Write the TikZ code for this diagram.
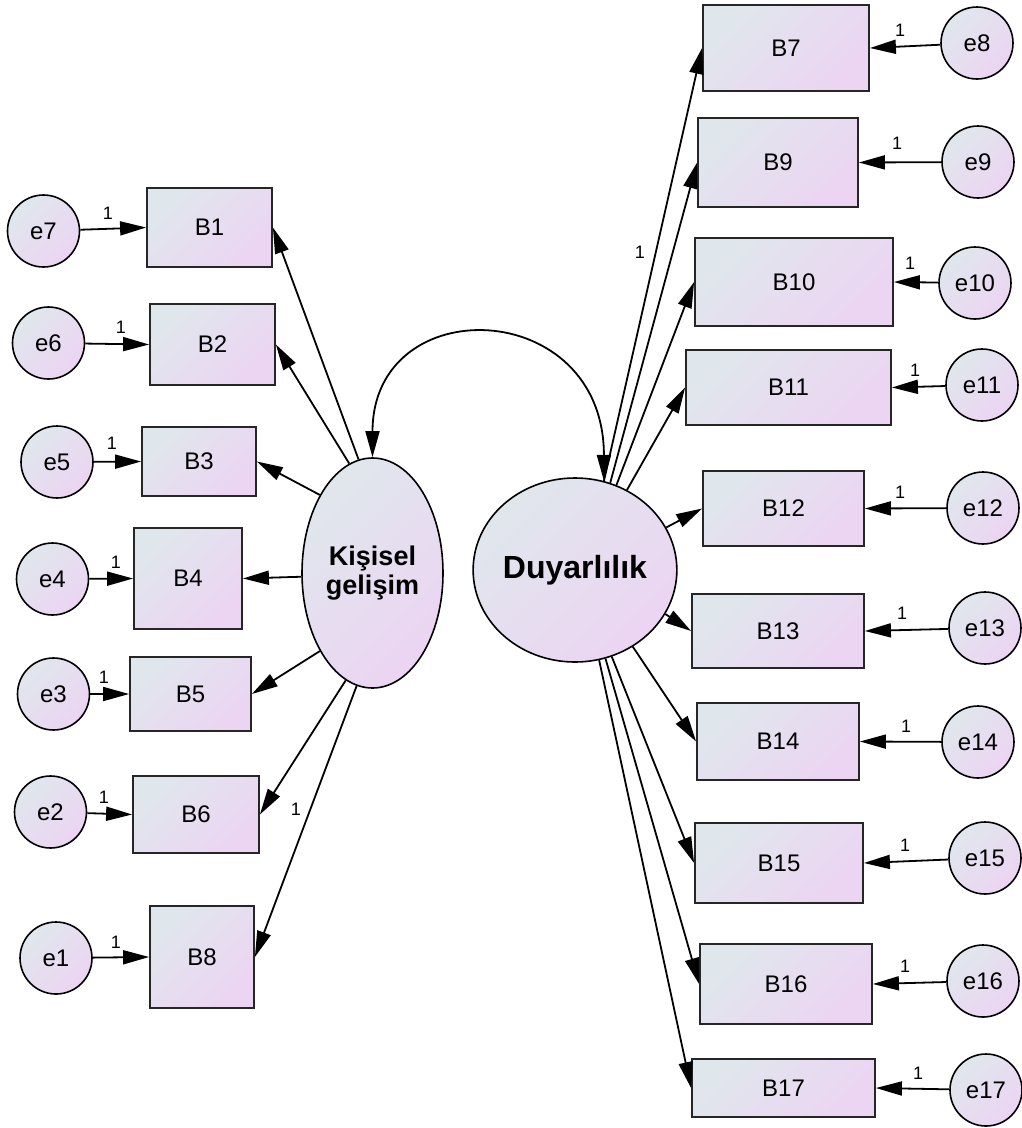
\documentclass[tikz,border=0pt]{standalone}
\usepackage{fontspec}
\setmainfont{Liberation Sans}
\usetikzlibrary{arrows.meta,shapes.geometric}
\definecolor{ca}{RGB}{224,231,236}
\definecolor{cb}{RGB}{236,212,243}
\begin{document}
\begin{tikzpicture}[x=1pt,y=-1pt,
 fillg/.style={top color=ca,bottom color=cb,shading angle=45},
 obs/.style={rectangle,draw=black!85,line width=1.8pt,fillg,inner sep=0pt,font=\fontsize{24}{26}\selectfont},
 err/.style={circle,draw=black,line width=1.6pt,fillg,minimum size=72pt,inner sep=0pt,font=\fontsize{24}{26}\selectfont},
 lat/.style={ellipse,draw=black,line width=1.6pt,fillg,inner sep=0pt,align=center},
 arr/.style={line width=1.8pt,-{Triangle[length=26pt,width=14pt]}},
 cov/.style={line width=1.8pt,{Triangle[length=26pt,width=14pt]}-{Triangle[length=26pt,width=14pt]}},
 one/.style={font=\fontsize{18}{18}\selectfont,inner sep=0pt}
]
\useasboundingbox (0,0) rectangle (1022,1128);

% latent variables
\node[lat,minimum width=141pt,minimum height=230pt,font=\bfseries\fontsize{27}{29}\selectfont] (K) at (372.5,573) {Kişisel\\gelişim};
\node[lat,minimum width=194pt,minimum height=184pt,font=\bfseries\fontsize{32}{34}\selectfont] (D) at (575,570) {Duyarlılık};

% left observed
\node[obs,minimum width=125pt,minimum height=79pt] (B1) at (209.5,227.5) {B1};
\node[obs,minimum width=125pt,minimum height=81pt] (B2) at (212.5,344.5) {B2};
\node[obs,minimum width=114pt,minimum height=69pt] (B3) at (199,461.5) {B3};
\node[obs,minimum width=108pt,minimum height=101pt] (B4) at (188,578.5) {B4};
\node[obs,minimum width=121pt,minimum height=74pt] (B5) at (190.5,694) {B5};
\node[obs,minimum width=126pt,minimum height=77pt] (B6) at (196,814.5) {B6};
\node[obs,minimum width=104pt,minimum height=102pt] (B8) at (202,957) {B8};

% right observed
\node[obs,minimum width=166pt,minimum height=86pt] (B7) at (786,48) {B7};
\node[obs,minimum width=160pt,minimum height=89pt] (B9) at (778,162.5) {B9};
\node[obs,minimum width=198pt,minimum height=88pt] (B10) at (794,282) {B10};
\node[obs,minimum width=205pt,minimum height=75pt] (B11) at (788.5,387.5) {B11};
\node[obs,minimum width=161pt,minimum height=75pt] (B12) at (783.5,508.5) {B12};
\node[obs,minimum width=172pt,minimum height=74pt] (B13) at (778,631) {B13};
\node[obs,minimum width=162pt,minimum height=77pt] (B14) at (778,741.5) {B14};
\node[obs,minimum width=168pt,minimum height=80pt] (B15) at (779,863) {B15};
\node[obs,minimum width=172pt,minimum height=80pt] (B16) at (786,984) {B16};
\node[obs,minimum width=183pt,minimum height=58pt] (B17) at (783.5,1088) {B17};

% errors left
\node[err] (e7) at (43.5,231) {e7};
\node[err] (e6) at (48.5,343) {e6};
\node[err] (e5) at (57,462) {e5};
\node[err] (e4) at (52.5,579) {e4};
\node[err] (e3) at (53.5,694) {e3};
\node[err] (e2) at (50.5,812) {e2};
\node[err] (e1) at (56,958) {e1};
% errors right
\node[err] (e8) at (977,43) {e8};
\node[err] (e9) at (978,162) {e9};
\node[err] (e10) at (975,283) {e10};
\node[err] (e11) at (982,385) {e11};
\node[err] (e12) at (983,508) {e12};
\node[err] (e13) at (985,628) {e13};
\node[err] (e14) at (978,742) {e14};
\node[err] (e15) at (985,858) {e15};
\node[err] (e16) at (983,981) {e16};
\node[err] (e17) at (986,1090) {e17};

% error arrows
\draw[arr] (e7) -- (B1.west);
\draw[arr] (e6) -- (B2.west);
\draw[arr] (e5) -- (B3.west);
\draw[arr] (e4) -- (B4.west);
\draw[arr] (e3) -- (B5.west);
\draw[arr] (e2) -- (B6.west);
\draw[arr] (e1) -- (B8.west);
\draw[arr] (e8) -- (B7.east);
\draw[arr] (e9) -- (B9.east);
\draw[arr] (e10) -- (B10.east);
\draw[arr] (e11) -- (B11.east);
\draw[arr] (e12) -- (B12.east);
\draw[arr] (e13) -- (B13.east);
\draw[arr] (e14) -- (B14.east);
\draw[arr] (e15) -- (B15.east);
\draw[arr] (e16) -- (B16.east);
\draw[arr] (e17) -- (B17.east);

% loadings left
\draw[arr] (K.97) -- (B1.east);
\draw[arr] (K.102.6) -- (B2.east);
\draw[arr] (K.124) -- (B3.east);
\draw[arr] (K.183) -- (B4.east);
\draw[arr] (K.236.7) -- (B5.east);
\draw[arr] (K.256) -- (B6.east);
\draw[arr] (K.262.3) -- (B8.east);

% loadings right
\draw[arr] (D.72) -- (B7.west);
\draw[arr] (D.68.7) -- (B9.west);
\draw[arr] (D.64.2) -- (B10.west);
\draw[arr] (D.57.1) -- (B11.west);
\draw[arr] (D.25) -- (B12.west);
\draw[arr] (D.334.7) -- (B13.west);
\draw[arr] (D.307.6) -- (B14.west);
\draw[arr] (D.293.5) -- (B15.west);
\draw[arr] (D.289.6) -- (B16.west);
\draw[arr] (D.285.7) -- (B17.west);

% covariance
\draw[cov] (K.north) .. controls +(0,-168) and +(0,-185) .. (D.72);

% labels "1"
\node[one] (l7) at (108,213) {1};
\node[one] (l6) at (121,327) {1};
\node[one] (l5) at (112,443) {1};
\node[one] (l4) at (116,562) {1};
\node[one] (l3) at (104,677) {1};
\node[one] (l2) at (104,797) {1};
\node[one] (l1) at (116,942) {1};
\node[one] (lK) at (296,809) {1};
\node[one] (lD) at (640,252) {1};
\node[one] (l8) at (900,30) {1};
\node[one] (l9) at (897,143) {1};
\node[one] (l10) at (910,263) {1};
\node[one] (l11) at (915,370) {1};
\node[one] (l12) at (900,492) {1};
\node[one] (l13) at (902,613) {1};
\node[one] (l14) at (906,726) {1};
\node[one] (l15) at (905,845) {1};
\node[one] (l16) at (905,966) {1};
\node[one] (l17) at (918,1073) {1};
\end{tikzpicture}
\end{document}
